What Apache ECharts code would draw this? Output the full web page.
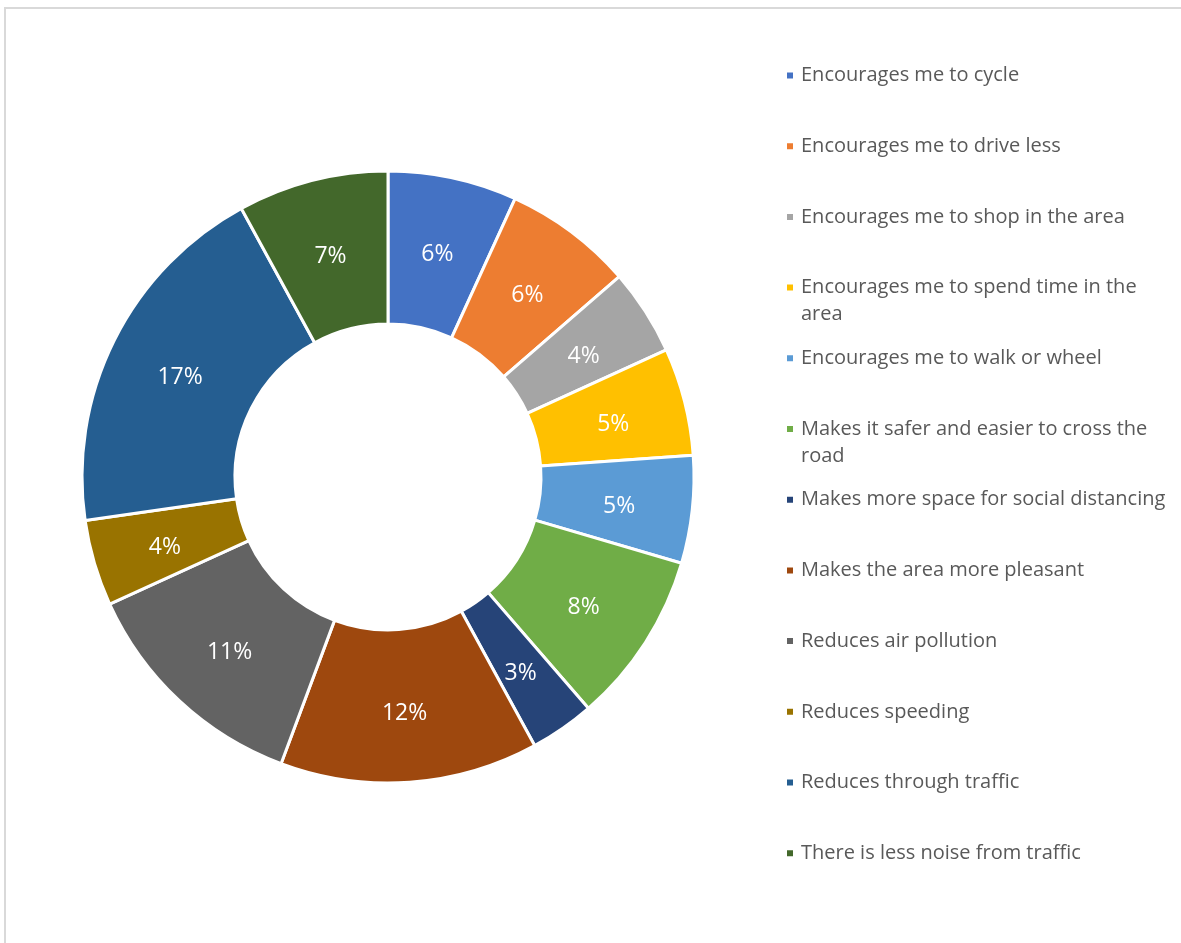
<!DOCTYPE html>
<html>
<head>
<meta charset="utf-8">
<script src="https://cdn.jsdelivr.net/npm/echarts@6/dist/echarts.min.js"></script>
<style>
  html, body { margin: 0; padding: 0; background: #fff; }
  #frame { position: absolute; left: 4px; top: 7px; width: 1200px; height: 960px;
           border-left: 2px solid #d9d9d9; border-top: 2px solid #d9d9d9; }
  #chart { position: absolute; left: 0; top: 0; width: 1181px; height: 943px; }
</style>
</head>
<body>
<div id="frame"></div>
<div id="chart"></div>
<script>
// Reported benefits (percent of responses)
const categories = [
  'Encourages me to cycle',
  'Encourages me to drive less',
  'Encourages me to shop in the area',
  'Encourages me to spend time in the area',
  'Encourages me to walk or wheel',
  'Makes it safer and easier to cross the road',
  'Makes more space for social distancing',
  'Makes the area more pleasant',
  'Reduces air pollution',
  'Reduces speeding',
  'Reduces through traffic',
  'There is less noise from traffic'
];
const values = [6, 6, 4, 5, 5, 8, 3, 12, 11, 4, 17, 7];
const colors = [
  '#4472C4', '#ED7D31', '#A5A5A5', '#FFC000', '#5B9BD5', '#70AD47',
  '#264478', '#9E480E', '#636363', '#997300', '#255E91', '#43682B'
];
// Legend labels that wrap onto a second line
const wrappedLabels = {
  'Encourages me to spend time in the area': ['Encourages me to spend time in the', 'area'],
  'Makes it safer and easier to cross the road': ['Makes it safer and easier to cross the', 'road']
};

const FONT = '"Open Sans", sans-serif';
const LINE_H = 27;
const legendStart = 75.5;
const legendStep = 70.7;

// One legend block per entry so every entry sits on a fixed row grid;
// wrapped entries get a blank leading line so the swatch stays on line one.
const legends = categories.map((name, i) => {
  const wrapped = wrappedLabels[name];
  const lines = wrapped ? 3 : 1;
  const centerY = legendStart + i * legendStep;
  return {
    data: [name],
    orient: 'vertical',
    left: 785,
    top: centerY - (lines * LINE_H) / 2,
    padding: 0,
    icon: 'rect',
    itemWidth: 8,
    itemHeight: 8,
    itemGap: 0,
    selectedMode: true,
    formatter: n => wrappedLabels[n] ? '\n' + wrappedLabels[n].join('\n') : n,
    textStyle: { fontFamily: FONT, fontSize: 20, color: '#595959', lineHeight: LINE_H, padding: [0, 0, 0, 2] }
  };
});

const chart = echarts.init(document.getElementById('chart'), null, { renderer: 'canvas' });
chart.setOption({
  backgroundColor: 'transparent',
  animation: false,
  color: colors,
  legend: legends,
  series: [{
    type: 'pie',
    center: [388, 477],
    radius: [153, 306],
    startAngle: 90,
    clockwise: true,
    avoidLabelOverlap: false,
    itemStyle: { borderColor: '#ffffff', borderWidth: 3 },
    label: {
      show: true,
      position: 'inside',
      formatter: p => p.value + '%',
      color: '#ffffff',
      fontFamily: FONT,
      fontSize: 23,
      offset: [0, 5]
    },
    labelLine: { show: false },
    emphasis: { scale: false },
    data: categories.map((c, i) => ({ name: c, value: values[i] }))
  }]
});
</script>
</body>
</html>
